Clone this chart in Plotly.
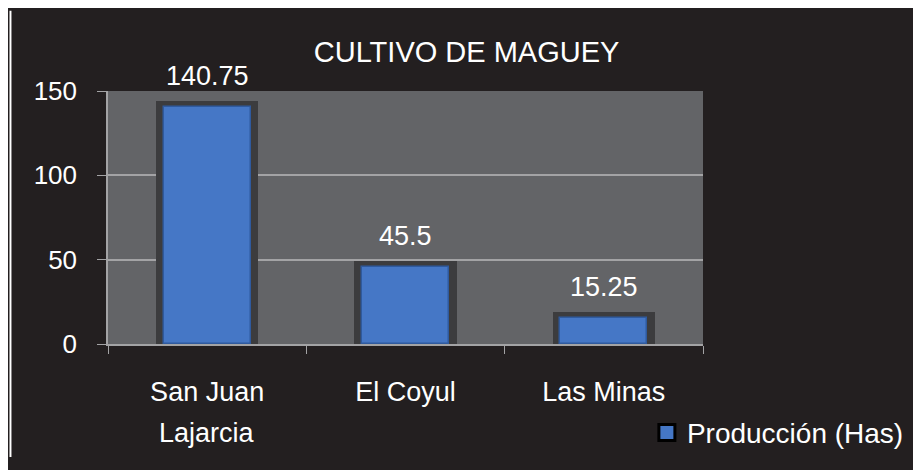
import plotly.graph_objects as go

categories = ["San Juan Lajarcia", "El Coyul", "Las Minas"]
tick_line1 = ["San Juan", "El Coyul", "Las Minas"]
tick_line2 = ["Lajarcia", "", ""]
values = [140.75, 45.5, 15.25]
value_labels = ["140.75", "45.5", "15.25"]
series_name = "Producción (Has)"
title_text = "CULTIVO DE MAGUEY"
y_ticks = [0, 50, 100, 150]

FONT = "Liberation Sans, Arial, sans-serif"
BG = "#231F20"
PLOT_BG = "#636467"
GRID = "#A3A3A5"
BLUE = "#4577C6"
SHADOW = "#3C3C3E"

OFF = 8  # page body margin
W, H = 921 - OFF, 470 - OFF
L, T = 108 - OFF, 91 - OFF
R = W - (712 - OFF)
B = H - (353 - OFF)
pw, ph = W - L - R, H - T - B

def px_x(p):  # window px -> paper
    return (p - OFF - L) / pw

def px_y(p):
    return (H - B - (p - OFF)) / ph

fig = go.Figure()

fig.add_trace(go.Bar(
    x=categories, y=values, width=0.455,
    marker=dict(color=SHADOW, line=dict(color=SHADOW, width=12)),
    showlegend=False, hoverinfo="skip",
))
fig.add_trace(go.Bar(
    x=categories, y=values, width=0.44, name=series_name,
    marker=dict(color=BLUE, line=dict(color="#2F5A9E", width=1.5)),
    showlegend=False,
))
fig.add_trace(go.Scatter(
    x=[None], y=[None], mode="markers", name=series_name,
    marker=dict(symbol="square", size=16, color=BLUE,
                line=dict(color="#000000", width=3)),
    showlegend=True,
))

annotations = []
for c, v, t in zip(categories, values, value_labels):
    annotations.append(dict(
        x=c, y=v, xref="x", yref="y", text=t, showarrow=False,
        yanchor="bottom", yshift=14,
        font=dict(family=FONT, size=27, color="white"),
    ))
for c, t in zip(categories, tick_line2):
    if t:
        annotations.append(dict(
            x=c, y=px_y(445), xref="x", yref="paper", text=t, showarrow=False,
            yanchor="middle",
            font=dict(family=FONT, size=27, color="white"),
        ))

fig.update_layout(
    width=W, height=H,
    margin=dict(l=L, r=R, t=T, b=B, pad=0),
    paper_bgcolor=BG, plot_bgcolor=PLOT_BG,
    barmode="overlay", bargap=0,
    font=dict(family=FONT, color="white"),
    title=dict(text=title_text, x=px_x(472), xref="paper", xanchor="center",
               y=1 - (52 - OFF) / H, yref="container", yanchor="middle",
               font=dict(family=FONT, size=29, color="white")),
    xaxis=dict(
        tickmode="array", tickvals=categories, ticktext=tick_line1,
        tickson="boundaries", ticks="outside", ticklen=8, tickcolor=GRID,
        showline=True, linecolor=GRID, linewidth=1.5,
        showgrid=False, zeroline=False,
        tickfont=dict(family=FONT, size=27, color="white"),
        ticklabelstandoff=23,
    ),
    yaxis=dict(
        range=[0, 150], tickvals=y_ticks,
        ticks="outside", ticklen=9, tickcolor=GRID,
        showline=True, linecolor=GRID, linewidth=1.5,
        showgrid=True, gridcolor=GRID, gridwidth=1.5, zeroline=False,
        tickfont=dict(family=FONT, size=26, color="white"),
        ticklabelstandoff=15,
    ),
    legend=dict(x=px_x(921), xanchor="right", y=px_y(445), yanchor="middle",
                font=dict(family=FONT, size=28, color="white"),
                bgcolor="rgba(0,0,0,0)", itemsizing="trace"),
    annotations=annotations,
    shapes=[
        dict(type="rect", xref="paper", yref="paper", layer="above",
             x0=px_x(8), x1=px_x(10), y0=px_y(470), y1=px_y(8),
             fillcolor="white", line=dict(width=0)),
    ],
)

fig.write_html("out.html")
